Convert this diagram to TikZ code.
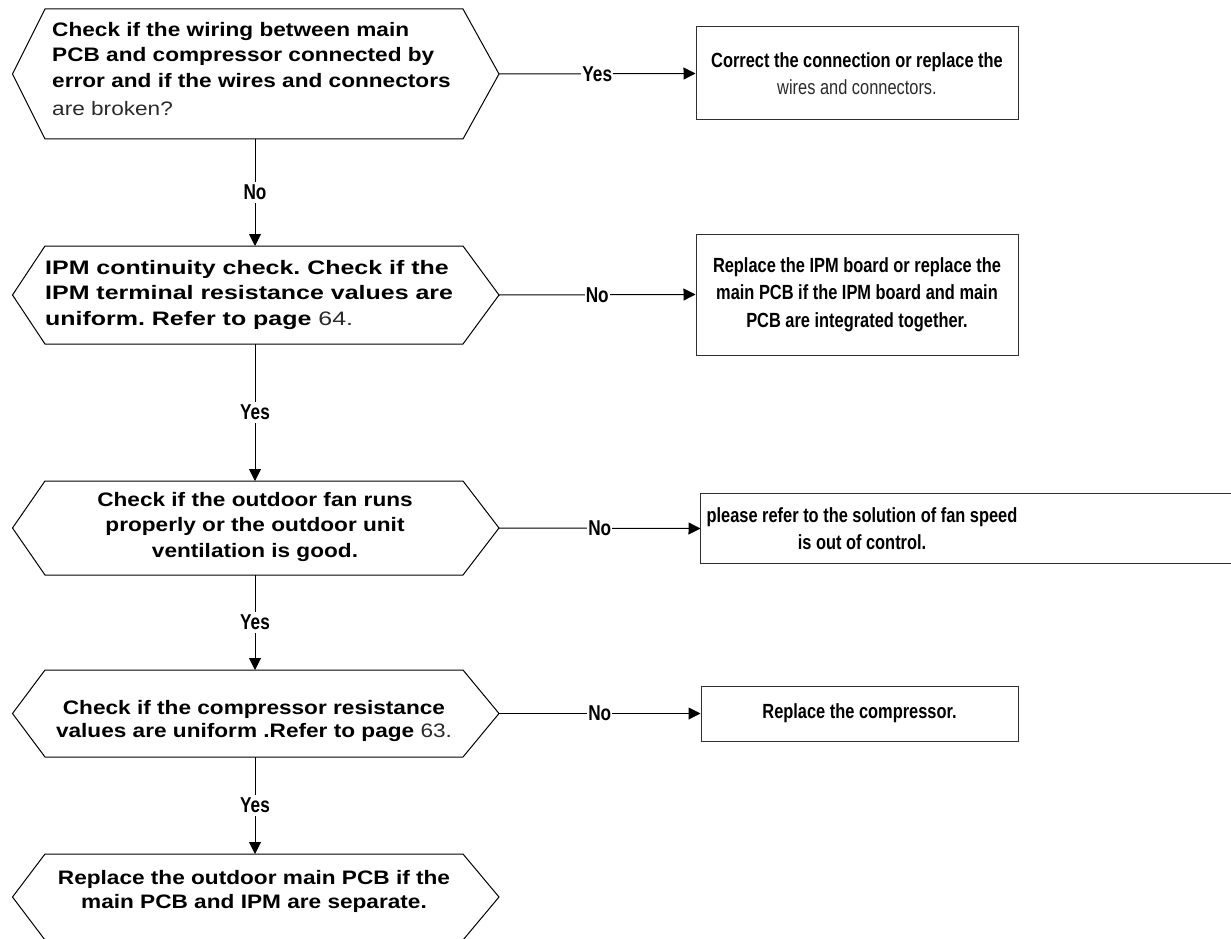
\documentclass[tikz,border=0pt]{standalone}
\usepackage{fontspec}
\setmainfont{Liberation Sans}
\newfontfamily\hexfont[FakeStretch=1.16]{Liberation Sans}
\newfontfamily\hexwfont[FakeStretch=1.28]{Liberation Sans}
\newfontfamily\boxfont[FakeStretch=0.80]{Liberation Sans}
\usetikzlibrary{arrows.meta,calc}
\definecolor{txtgray}{HTML}{2A2A2A}
\definecolor{boxgray}{HTML}{303030}
\frenchspacing
\newcommand\drawhex[3]{%
  \coordinate (#1n) at (255,#2);
  \coordinate (#1s) at (255,#3);
  \coordinate (#1w) at (12.5,{(#2+#3)/2});
  \coordinate (#1e) at (499,{(#2+#3)/2});
  \draw[hexline] (45,#2) -- (463,#2) -- (#1e) -- (463,#3) -- (45,#3) -- (#1w) -- cycle;
}
\begin{document}
\begin{tikzpicture}[x=1pt,y=-1pt,
  hexline/.style={line width=1pt, black, line join=miter},
  hextext/.style={inner sep=0pt, font=\hexfont\bfseries\fontsize{19.5}{25.5}\selectfont},
  boxnode/.style={draw=boxgray, line width=1pt, inner sep=0pt, align=center,
    font=\boxfont\bfseries\fontsize{20.5}{27.5}\selectfont},
  arr/.style={line width=1pt, -{Triangle[length=12pt,width=12pt]}},
  lbl/.style={fill=white, inner xsep=1pt, inner ysep=3pt, font=\boxfont\bfseries\fontsize{21.5}{22}\selectfont}]
\useasboundingbox (0,0) rectangle (1231,939);

% ---------- hexagons (decisions) ----------
\drawhex{x1}{9}{139}
\drawhex{x2}{246}{344}
\drawhex{x3}{481}{575}
\drawhex{x4}{670}{757}
\drawhex{x5}{854}{940}

\node[hextext, anchor=north west, align=left] (t1) at (52,22)
  {Check if the wiring between main\\PCB and compressor connected by\\error and if the wires and connectors\\[3pt]{\mdseries\color{txtgray}are broken?}};
\node[hextext, font=\hexwfont\bfseries\fontsize{19.5}{25.5}\selectfont, anchor=north west, align=left] (t2) at (45,260)
  {IPM continuity check. Check if the\\IPM terminal resistance values are\\uniform. Refer to page {\mdseries\color{txtgray}64.}};
\node[hextext, anchor=north, align=center] (t3) at (255,492)
  {Check if the outdoor fan runs\\properly or the outdoor unit\\ventilation is good.};
\node[hextext, font=\hexfont\bfseries\fontsize{19.5}{23}\selectfont, anchor=north, align=center] (t4) at (254,700)
  {Check if the compressor resistance\\values are uniform .Refer to page {\mdseries\color{txtgray}63.}};
\node[hextext, font=\hexfont\bfseries\fontsize{19.5}{24}\selectfont, anchor=north, align=center] (t5) at (254,870)
  {Replace the outdoor main PCB if the\\main PCB and IPM are separate.};

% ---------- boxes (actions) ----------
\node[boxnode, minimum width=322, minimum height=93] (b1) at (857,73.5)
  {Correct the connection or replace the\\{\mdseries\color{txtgray}wires and connectors.}};
\node[boxnode, minimum width=322, minimum height=121] (b2) at (857,294.5)
  {Replace the IPM board or replace the\\main PCB if the IPM board and main\\PCB are integrated together.};
\node[boxnode, draw=none, minimum width=322, minimum height=69] (b3) at (862,528.5)
  {please refer to the solution of fan speed\\is out of control.};
\draw[draw=boxgray, line width=1pt] (b3.north west) rectangle ($(b3.south east)+(400,0)$);
\node[boxnode, minimum width=317, minimum height=55] (b4) at (859.5,713.5)
  {Replace the compressor.};

% ---------- connectors ----------
\draw[arr] (x1s) -- node[lbl]{No} (x2n);
\draw[arr] (x2s) -- node[lbl]{Yes} (x3n);
\draw[arr] (x3s) -- node[lbl]{Yes} (x4n);
\draw[arr] (x4s) -- node[lbl]{Yes} (x5n);

\draw[arr] (x1e) -- node[lbl]{Yes} (b1.west);
\draw[arr] (x2e) -- node[lbl]{No} (b2.west);
\draw[arr] (x3e) -- node[lbl]{No} (b3.west);
\draw[arr] (x4e) -- node[lbl]{No} (b4.west);
\end{tikzpicture}
\end{document}
